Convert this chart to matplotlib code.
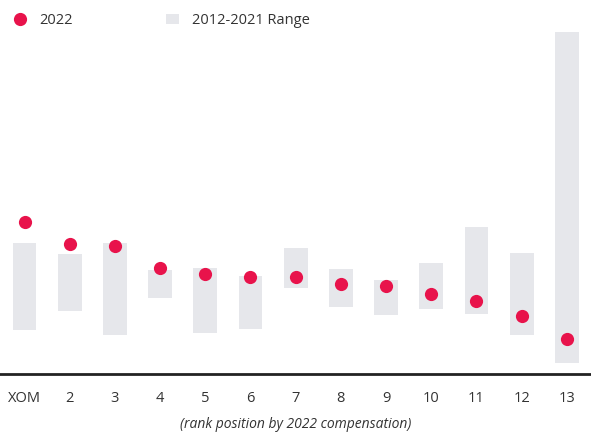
"""
CEO compensation rank: 2022 value against the 2012-2021 range.
"""

import matplotlib.pyplot as plt
from matplotlib.lines import Line2D
from matplotlib.patches import Patch

plt.rcParams["font.family"] = ["Open Sans", "DejaVu Sans"]

categories = ["XOM", "2", "3", "4", "5", "6", "7", "8", "9", "10", "11", "12", "13"]
value_2022 = [152, 130, 128, 106, 100, 97, 97, 90, 88, 80, 73, 58, 35]
range_low = [44, 63, 39, 76, 41, 45, 86, 67, 59, 65, 60, 39, 11]
range_high = [131, 120, 131, 104, 106, 98, 126, 105, 94, 111, 147, 121, 342]

RED = "#E8134B"
GREY = "#E6E7EB"
TEXT = "#333333"

W, H = 591, 438
base_px = 374

fig = plt.figure(figsize=(W / 100, H / 100), dpi=100)
ax = fig.add_axes([0, (H - base_px) / H, 1, base_px / H])

x = list(range(len(categories)))
heights = [hi - lo for lo, hi in zip(range_low, range_high)]
ax.bar(x, heights, bottom=range_low, width=0.53, color=GREY, zorder=1)
ax.plot(x, value_2022, "o", color=RED, markersize=9.5, markeredgewidth=0, zorder=3)

step = 45.2
ax.set_xlim(-24.5 / step, (W - 24.5) / step)
ax.set_ylim(0, base_px)

for s in ["top", "right", "left"]:
    ax.spines[s].set_visible(False)
ax.spines["bottom"].set_linewidth(2)
ax.spines["bottom"].set_color("#222222")
ax.set_yticks([])
ax.set_xticks(x)
ax.set_xticklabels(categories, fontsize=10.5, color=TEXT)
ax.tick_params(axis="x", length=0, pad=12)
ax.set_xlabel("(rank position by 2022 compensation)", fontsize=10,
              style="italic", color=TEXT, labelpad=8)

handles = [
    Line2D([], [], marker="o", linestyle="none", color=RED,
           markersize=9.5, markeredgewidth=0),
    Patch(facecolor=GREY, edgecolor="none"),
]
ax.legend(handles, ["2022", "2012-2021 Range"], loc="upper left",
          bbox_to_anchor=(0.0, 1.0), bbox_transform=fig.transFigure,
          ncol=2, frameon=False, fontsize=10.5, columnspacing=6.4,
          handlelength=0.9, handletextpad=0.9, labelcolor=TEXT)

fig.savefig("out.png", dpi=100)
plt.close(fig)
